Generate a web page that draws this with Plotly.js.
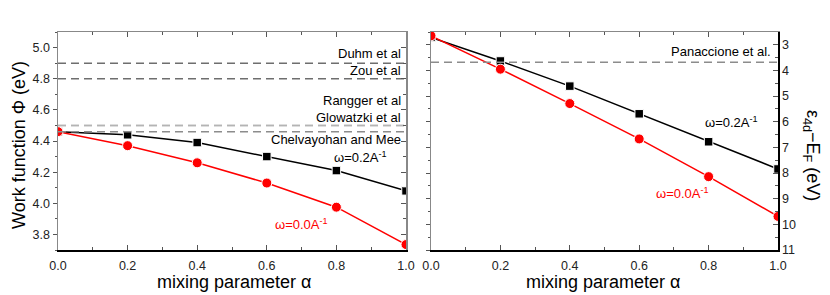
<!DOCTYPE html>
<html>
<head>
<meta charset="utf-8">
<script src="https://cdn.plot.ly/plotly-3.0.1.min.js"></script>
<style>html,body{margin:0;padding:0;background:#fff;}#chart{width:830px;height:295px;}</style>
</head>
<body>
<div id="chart"></div>
<script>
// ---- data ----
const alpha = [0.0, 0.2, 0.4, 0.6, 0.8, 1.0];
// Left panel: work function (eV)
const wf_w02 = [4.46, 4.44, 4.39, 4.30, 4.21, 4.08];
const wf_w00 = [4.46, 4.37, 4.26, 4.13, 3.975, 3.735];
// Right panel: eps_4d - E_F (eV)
const e4d_w02 = [2.71, 3.63, 4.61, 5.69, 6.78, 7.84];
const e4d_w00 = [2.65, 3.95, 5.29, 6.67, 8.14, 9.69];
// Experimental reference lines
const refLeftNames  = ["Duhm et al", "Zou et al", "Rangger et al", "Glowatzki et al", "Chelvayohan and Mee"];
const refLeftValues = [4.90, 4.80, 4.50, 4.50, 4.46];
const refLeftColors = ["#6e6e6e", "#6e6e6e", "#b4b4b4", "#b4b4b4", "#8c8c8c"];
const refRightNames  = ["Panaccione et al."];
const refRightValues = [3.68];
const seriesNames = ["ω=0.2A<sup>-1</sup>", "ω=0.0A<sup>-1</sup>"];
const xRange = [0, 1];

const FONT = "Liberation Sans, Arial, sans-serif";
const px2x = v => v / 830, px2y = v => 1 - v / 295;
const xdomL = [px2x(58), px2x(406)];
const xdomR = [px2x(431), px2x(778)];
const ydom = [px2y(250), px2y(32)];

const traces = [];
// reference lines on overlay axes
refLeftValues.forEach((v, i) => {
  traces.push({x: xRange, y: [v, v], xaxis: 'x3', yaxis: 'y3', mode: 'lines',
    line: {color: refLeftColors[i], width: 1.5, dash: '8px,5px'}, hoverinfo: 'skip', showlegend: false});
});
refRightValues.forEach((v) => {
  traces.push({x: xRange, y: [v, v], xaxis: 'x4', yaxis: 'y4', mode: 'lines',
    line: {color: '#8c8c8c', width: 1.5, dash: '8px,5px'}, hoverinfo: 'skip', showlegend: false});
});
const mk = (x, y, xa, ya, color, sym, size) => ({
  x, y, xaxis: xa, yaxis: ya, mode: 'lines+markers',
  line: {color, width: 1.5},
  marker: {color, symbol: sym, size, line: {color: '#fff', width: 1}},
  showlegend: false
});
traces.push(mk(alpha, wf_w02, 'x', 'y', '#000', 'square', 8.5));
traces.push(mk(alpha, wf_w00, 'x', 'y', '#ff0000', 'circle', 10));
traces.push(mk(alpha, e4d_w02, 'x2', 'y2', '#000', 'square', 8.5));
traces.push(mk(alpha, e4d_w00, 'x2', 'y2', '#ff0000', 'circle', 10));

const tickFont = {family: FONT, size: 12.5, color: '#222'};
const xBase = (dom, anchor) => ({
  domain: dom, anchor, range: xRange, dtick: 0.2, tick0: 0, tickformat: '.1f',
  ticks: 'inside', ticklen: 5, tickcolor: '#555', tickwidth: 1, ticklabelstandoff: 3,
  minor: {dtick: 0.1, ticks: 'inside', ticklen: 3, tickcolor: '#555'},
  showline: true, linecolor: '#000', linewidth: 1.5, showgrid: false, zeroline: false,
  tickfont: tickFont, fixedrange: true
});
const overlayX = (ov, anchor) => ({
  overlaying: ov, anchor, side: 'top', range: xRange, dtick: 0.2, tick0: 0,
  ticks: 'inside', ticklen: 5, tickcolor: '#555', showticklabels: false,
  minor: {dtick: 0.1, ticks: 'inside', ticklen: 3, tickcolor: '#555'},
  showline: true, linecolor: '#888', linewidth: 1.5, showgrid: false, zeroline: false, fixedrange: true
});

const layout = {
  width: 830, height: 295,
  margin: {l: 0, r: 0, t: 0, b: 0},
  paper_bgcolor: '#fff', plot_bgcolor: 'rgba(0,0,0,0)',
  showlegend: false,
  font: {family: FONT, color: '#000'},
  xaxis: xBase(xdomL, 'y'),
  yaxis: {
    domain: ydom, anchor: 'x', range: [3.7, 5.1], dtick: 0.2, tick0: 3.8, tickformat: '.1f',
    ticks: 'outside', ticklen: 4, tickcolor: '#555',
    minor: {dtick: 0.1, ticks: 'outside', ticklen: 2, tickcolor: '#555'},
    showline: true, linecolor: '#888', linewidth: 1.5, showgrid: false, zeroline: false,
    tickfont: tickFont, fixedrange: true
  },
  xaxis3: overlayX('x', 'y'),
  yaxis3: {
    overlaying: 'y', anchor: 'x', side: 'right', range: [3.7, 5.1], dtick: 0.2, tick0: 3.8,
    ticks: 'inside', ticklen: 5, tickcolor: '#555', showticklabels: false,
    minor: {dtick: 0.1, ticks: 'inside', ticklen: 3, tickcolor: '#555'},
    showline: true, linecolor: '#888', linewidth: 1.5, showgrid: false, zeroline: false, fixedrange: true
  },
  xaxis2: xBase(xdomR, 'y2'),
  yaxis2: {
    domain: ydom, anchor: 'x2', side: 'right', range: [11, 2.5], dtick: 1, tick0: 3,
    ticks: 'inside', ticklen: 5, tickcolor: '#555',
    minor: {dtick: 0.5, ticks: 'inside', ticklen: 3, tickcolor: '#555'},
    showline: true, linecolor: '#000', linewidth: 1.5, showgrid: false, zeroline: false,
    tickfont: tickFont, fixedrange: true
  },
  xaxis4: overlayX('x2', 'y2'),
  yaxis4: {
    overlaying: 'y2', anchor: 'x2', side: 'left', range: [11, 2.5], dtick: 1, tick0: 3,
    ticks: 'outside', ticklen: 4, tickcolor: '#555', showticklabels: false,
    minor: {dtick: 0.5, ticks: 'outside', ticklen: 2, tickcolor: '#555'},
    showline: true, linecolor: '#888', linewidth: 1.5, showgrid: false, zeroline: false, fixedrange: true
  },
  annotations: []
};

const A = layout.annotations;
const lblFont = {family: FONT, size: 13, color: '#000'};
const leftLabelY = [4.964, 4.852, 4.66, 4.549, 4.408];
refLeftNames.forEach((n, i) => A.push({text: n, xref: 'x', yref: 'y', x: 0.991, y: leftLabelY[i],
  xanchor: 'right', yanchor: 'middle', showarrow: false, font: lblFont}));
A.push({text: refRightNames[0], xref: 'x2', yref: 'y2', x: 0.986, y: 3.26,
  xanchor: 'right', yanchor: 'middle', showarrow: false, font: lblFont});
A.push({text: seriesNames[0], xref: 'x', yref: 'y', x: 0.87, y: 4.30, showarrow: false, font: lblFont});
A.push({text: seriesNames[1], xref: 'x', yref: 'y', x: 0.70, y: 3.87, showarrow: false, font: {family: FONT, size: 13, color: '#ff0000'}});
A.push({text: seriesNames[0], xref: 'x2', yref: 'y2', x: 0.867, y: 6.02, showarrow: false, font: lblFont});
A.push({text: seriesNames[1], xref: 'x2', yref: 'y2', x: 0.726, y: 8.79, showarrow: false, font: {family: FONT, size: 13, color: '#ff0000'}});
// axis titles
const titleFont = {family: FONT, size: 18, color: '#000'};
A.push({text: 'Work function Φ (eV)', xref: 'paper', yref: 'paper', x: px2x(19), y: px2y(145),
  textangle: -90, showarrow: false, font: titleFont, xanchor: 'center', yanchor: 'middle'});
A.push({text: 'ε<sub>4d</sub>−E<sub>F</sub> (eV)', xref: 'paper', yref: 'paper', x: px2x(812), y: px2y(155),
  textangle: 90, showarrow: false, font: titleFont, xanchor: 'center', yanchor: 'middle'});
A.push({text: 'mixing parameter α', xref: 'paper', yref: 'paper', x: px2x(234), y: px2y(282),
  showarrow: false, font: titleFont, xanchor: 'center', yanchor: 'middle'});
A.push({text: 'mixing parameter α', xref: 'paper', yref: 'paper', x: px2x(603), y: px2y(282),
  showarrow: false, font: titleFont, xanchor: 'center', yanchor: 'middle'});

Plotly.newPlot('chart', traces, layout, {staticPlot: true, displayModeBar: false});
</script>
</body>
</html>
